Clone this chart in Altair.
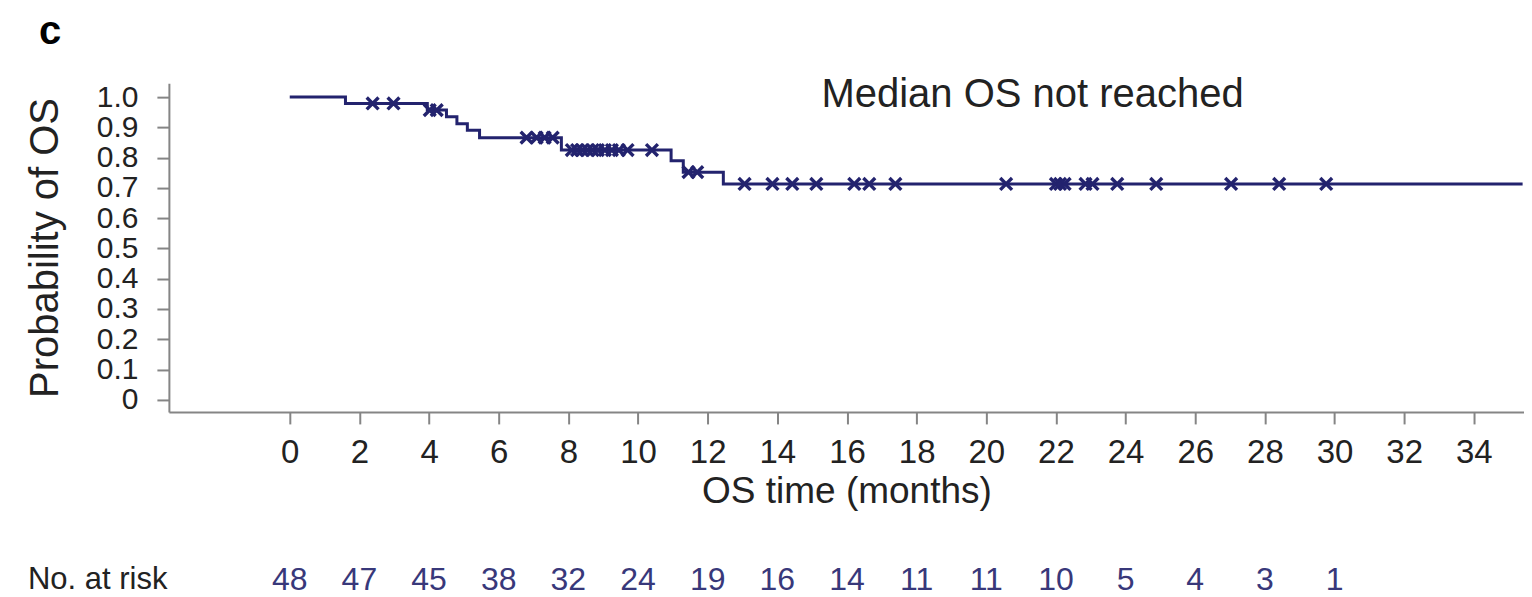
import altair as alt
import pandas as pd

# ---- data ----
step_time = [0, 1.6, 3.95, 4.5, 4.8, 5.1, 5.45, 7.8, 10.95, 11.3, 12.45, 35.4]
step_surv = [1.0, 0.979, 0.957, 0.935, 0.912, 0.89, 0.866, 0.825, 0.79, 0.752, 0.713, 0.713]

censor_time = [2.38, 2.98, 4.02, 4.22,
               6.8, 7.09, 7.32, 7.55,
               8.1, 8.25, 8.4, 8.55, 8.7, 8.85, 9.05, 9.25, 9.45, 9.7, 10.4,
               11.45, 11.7,
               13.06, 13.86, 14.43, 15.12, 16.21, 16.64, 17.39, 20.57,
               22.0, 22.12, 22.25, 22.85, 23.05, 23.76, 24.88, 27.03, 28.41, 29.76]

risk_time = [0, 2, 4, 6, 8, 10, 12, 14, 16, 18, 20, 22, 24, 26, 28, 30]
risk_n = [48, 47, 45, 38, 32, 24, 19, 16, 14, 11, 11, 10, 5, 4, 3, 1]

x_ticks = [0, 2, 4, 6, 8, 10, 12, 14, 16, 18, 20, 22, 24, 26, 28, 30, 32, 34]
y_ticks = [0, 0.1, 0.2, 0.3, 0.4, 0.5, 0.6, 0.7, 0.8, 0.9, 1.0]


def surv_at(t):
    s = step_surv[0]
    for tt, ss in zip(step_time, step_surv):
        if tt <= t:
            s = ss
    return s


steps = pd.DataFrame({"t": step_time, "s": step_surv})
cens = pd.DataFrame({"t": censor_time, "s": [surv_at(t) for t in censor_time]})
risk = pd.DataFrame({"t": risk_time, "n": [str(v) for v in risk_n]})

FONT = "Liberation Sans"
NAVY = "#23236e"
GREY = "#858585"

xscale = alt.Scale(domain=[-3.47, 35.44], nice=False, zero=False)
yscale = alt.Scale(domain=[-0.04, 1.046], nice=False, zero=False)

xaxis = alt.Axis(values=x_ticks, title="OS time (months)", grid=False,
                 tickSize=12, tickWidth=2, tickColor=GREY,
                 domainColor=GREY, domainWidth=2, labelOverlap=False,
                 labelFontSize=33, labelPadding=13, labelColor="#222222",
                 titleFontSize=37, titleFontWeight="normal", titleColor="#222222",
                 titlePadding=4, labelFont=FONT, titleFont=FONT)
yaxis = alt.Axis(values=y_ticks, title="Probability of OS", grid=False,
                 labelExpr="datum.value == 0 ? '0' : format(datum.value, '.1f')",
                 tickSize=12, tickWidth=2, tickColor=GREY, labelOverlap=False,
                 domainColor=GREY, domainWidth=2,
                 labelFontSize=30, labelPadding=19, labelColor="#222222",
                 titleFontSize=40, titleFontWeight="normal", titleColor="#222222",
                 titlePadding=31, labelFont=FONT, titleFont=FONT)

X = alt.X("t:Q", scale=xscale, axis=xaxis)
Y = alt.Y("s:Q", scale=yscale, axis=yaxis)

line = alt.Chart(steps).mark_line(interpolate="step-after", color=NAVY,
                                  strokeWidth=3).encode(x=X, y=Y)

marks = alt.Chart(cens).mark_point(
    shape="M-1,-1L1,1M-1,1L1,-1", filled=False, color=NAVY,
    strokeWidth=3.4, size=140, opacity=1).encode(x=X, y=Y)

risk_text = alt.Chart(risk).mark_text(
    font=FONT, fontSize=32, color="#38387a", baseline="middle",
    align="center").encode(
    x=X,
    y=alt.value(497),
    text="n:N",
)

label_df = pd.DataFrame({"lab": ["No. at risk"]})
risk_label = alt.Chart(label_df).mark_text(
    font=FONT, fontSize=31, color="#222222", baseline="middle",
    align="left").encode(
    x=alt.value(-141), y=alt.value(497), text="lab:N")

note_df = pd.DataFrame({"lab": ["Median OS not reached"]})
note = alt.Chart(note_df).mark_text(
    font=FONT, fontSize=40, color="#222222", baseline="alphabetic",
    align="left").encode(
    x=alt.value(653), y=alt.value(24), text="lab:N")

panel_df = pd.DataFrame({"lab": ["c"]})
panel = alt.Chart(panel_df).mark_text(
    font=FONT, fontSize=40, fontWeight="bold", color="#000000",
    baseline="alphabetic", align="left").encode(
    x=alt.value(-130), y=alt.value(-39), text="lab:N")

chart = alt.layer(line, marks, risk_text, risk_label, note, panel).properties(
    width=1356, height=329,
    autosize=alt.AutoSizeParams(type="none"),
    padding={"left": 161, "top": 75, "right": 0, "bottom": 184},
).configure_view(stroke=None)

chart.save("out.html", embed_options={"renderer": "svg", "actions": False})
